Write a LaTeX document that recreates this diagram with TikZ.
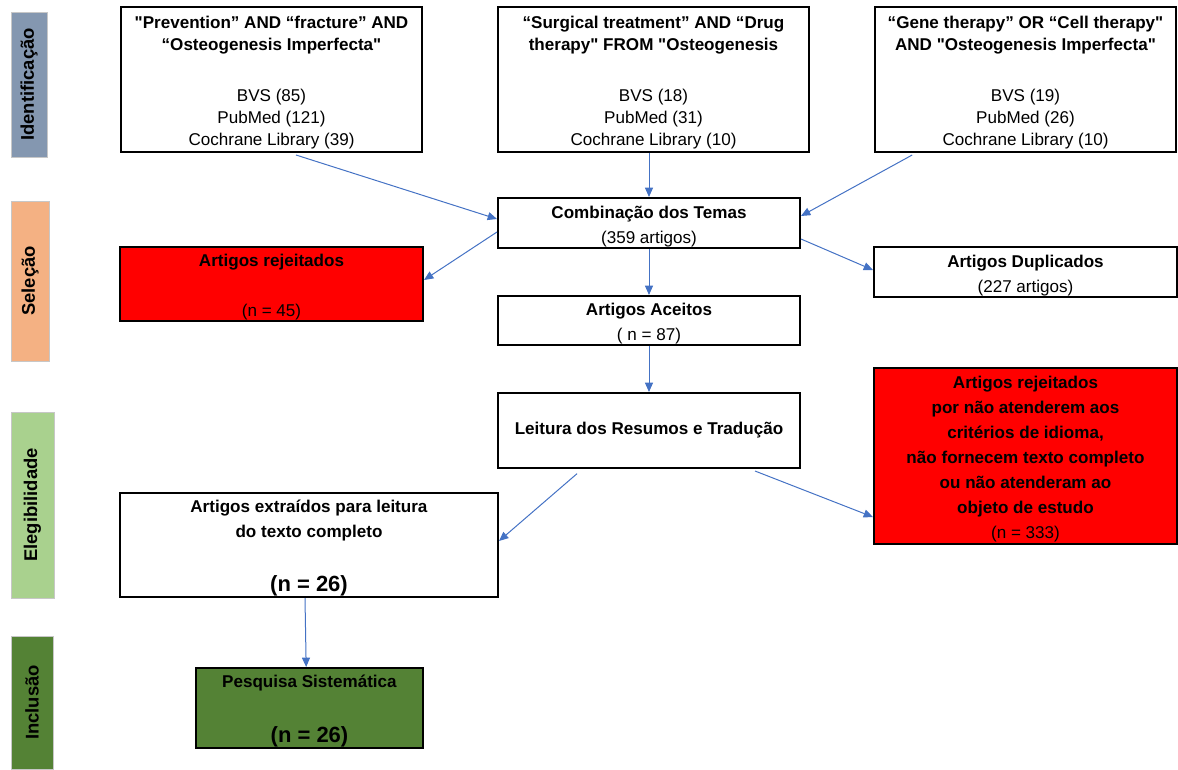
\documentclass[tikz,border=0pt]{standalone}
\usepackage{fontspec}
\setmainfont{Liberation Sans}
\usetikzlibrary{arrows.meta, positioning}

\definecolor{flowblue}{HTML}{4472C4}
\definecolor{phaseblue}{HTML}{8497B0}
\definecolor{phaseorange}{HTML}{F4B183}
\definecolor{phaselight}{HTML}{A9D18E}
\definecolor{phasegreen}{HTML}{548235}

\newcommand{\bignumfont}{\fontsize{16.5pt}{20pt}\selectfont\bfseries}
\newcommand{\qd}{\textquotedbl}
\newcommand{\toppad}{\rule{0pt}{14pt}}

\begin{document}
\begin{tikzpicture}[
    x=0.75pt, y=-0.75pt,
    font=\fontsize{12.8pt}{18.75pt}\selectfont,
    phase/.style={
        rectangle, draw=black!22, line width=0.6pt, rotate=90,
        inner sep=0pt, font=\fontsize{13.8pt}{15pt}\selectfont\bfseries
    },
    searchbox/.style={
        rectangle, draw=black, line width=1.5pt, fill=white,
        minimum height=108.75pt, align=center, inner xsep=2pt, inner ysep=0pt,
        font=\fontsize{12.8pt}{16.5pt}\selectfont
    },
    process/.style={
        rectangle, draw=black, line width=1.5pt, fill=white,
        minimum width=226.5pt, align=center, inner xsep=2pt, inner ysep=0pt
    },
    rejected/.style={
        process, fill=red, minimum width=227.25pt
    },
    arrow/.style={
        -{Triangle[length=7pt, width=6pt]}, line width=0.75pt, draw=flowblue
    }
]
    \useasboundingbox (0,0) rectangle (1178,769);

    % --- PHASES ---
    \node [phase, fill=phaseblue, minimum width=108.75pt, minimum height=27pt] (ph_id) at (29, 84.5) {Identificação};
    \node [phase, fill=phaseorange, minimum width=120pt, minimum height=28.5pt] (ph_sel) at (30, 281) {Seleção};
    \node [phase, fill=phaselight, minimum width=139.5pt, minimum height=32.25pt] (ph_eleg) at (32.5, 505) {Elegibilidade};
    \node [phase, fill=phasegreen, minimum width=99.75pt, minimum height=31.5pt] (ph_incl) at (32, 702.5) {Inclusão};

    % --- NODES ---
    \node [searchbox, minimum width=225.75pt] (q_prev) at (271.5, 79.5) {%
        \toppad\textbf{\qd Prevention” AND “fracture” AND}\\
        \textbf{“Osteogenesis Imperfecta\qd}\\[22pt]
        BVS (85)\\ PubMed (121)\\ Cochrane Library (39)};
    \node [searchbox, minimum width=233.25pt] (q_surg) at (653.5, 79.5) {%
        \toppad\textbf{“Surgical treatment” AND “Drug}\\
        \textbf{therapy\qd{} FROM \qd Osteogenesis}\\[22pt]
        BVS (18)\\ PubMed (31)\\ Cochrane Library (10)};
    \node [searchbox, minimum width=225.75pt] (q_gene) at (1025.5, 79.5) {%
        \toppad\textbf{“Gene therapy” OR “Cell therapy\qd}\\
        \textbf{AND \qd Osteogenesis Imperfecta\qd}\\[22pt]
        BVS (19)\\ PubMed (26)\\ Cochrane Library (10)};

    \node [process, minimum height=37.5pt] (p_comb) at (649, 223) {\toppad\textbf{Combinação dos Temas}\\(359 artigos)};
    \node [rejected, minimum height=55.5pt] (p_rej) at (271.5, 284) {\toppad\textbf{Artigos rejeitados}\\[18.75pt](n = 45)};
    \node [process, minimum width=227.25pt, minimum height=37.5pt] (p_dup) at (1025.5, 272) {\toppad\textbf{Artigos Duplicados}\\(227 artigos)};
    \node [process, minimum height=36.75pt] (p_acc) at (649, 320.5) {\toppad\textbf{Artigos Aceitos}\\( n = 87)};
    \node [process, minimum height=56.25pt] (p_read) at (649, 430.5) {\textbf{Leitura dos Resumos e Tradução}};
    \node [rejected, minimum height=132pt] (p_rej2) at (1025.5, 456) {%
        \toppad\textbf{Artigos rejeitados}\\ \textbf{por não atenderem aos}\\
        \textbf{critérios de idioma,}\\ \textbf{não fornecem texto completo}\\
        \textbf{ou não atenderam ao}\\ \textbf{objeto de estudo}\\ (n = 333)};
    \node [process, minimum width=283.5pt, minimum height=78pt] (p_full) at (309, 545) {%
        \toppad\textbf{Artigos extraídos para leitura}\\ \textbf{do texto completo}\\[22pt]
        {\bignumfont (n = 26)}};
    \node [process, fill=phasegreen, minimum width=170.25pt, minimum height=60pt] (p_final) at (309.5, 708) {%
        \toppad\textbf{Pesquisa Sistemática}\\[22.5pt]
        {\bignumfont (n = 26)}};

    % --- CONNECTING ARROWS ---
    \draw [arrow] ([xshift=18.4pt, yshift=-1.5pt]q_prev.south) -- ([yshift=3pt]p_comb.west);
    \draw [arrow] (p_comb.north |- q_surg.south) -- (p_comb.north);
    \draw [arrow] ([xshift=-85pt, yshift=-1.5pt]q_gene.south) -- ([yshift=5.25pt]p_comb.east);

    \draw [arrow] ([yshift=-6.75pt]p_comb.west) -- ([yshift=3pt]p_rej.east);
    \draw [arrow] (p_comb) -- (p_acc);
    \draw [arrow] ([yshift=-12pt]p_comb.east) -- ([yshift=1.5pt]p_dup.west);

    \draw [arrow] (p_acc) -- (p_read);
    \draw [arrow] ([xshift=-54pt, yshift=-3.5pt]p_read.south) -- ([yshift=3pt]p_full.east);
    \draw [arrow] ([xshift=79.5pt, yshift=-1.5pt]p_read.south) -- ([yshift=-45.75pt]p_rej2.west);

    \draw [arrow] ([xshift=-3pt]p_full.south) -- ([xshift=-2.5pt]p_final.north);

\end{tikzpicture}
\end{document}
